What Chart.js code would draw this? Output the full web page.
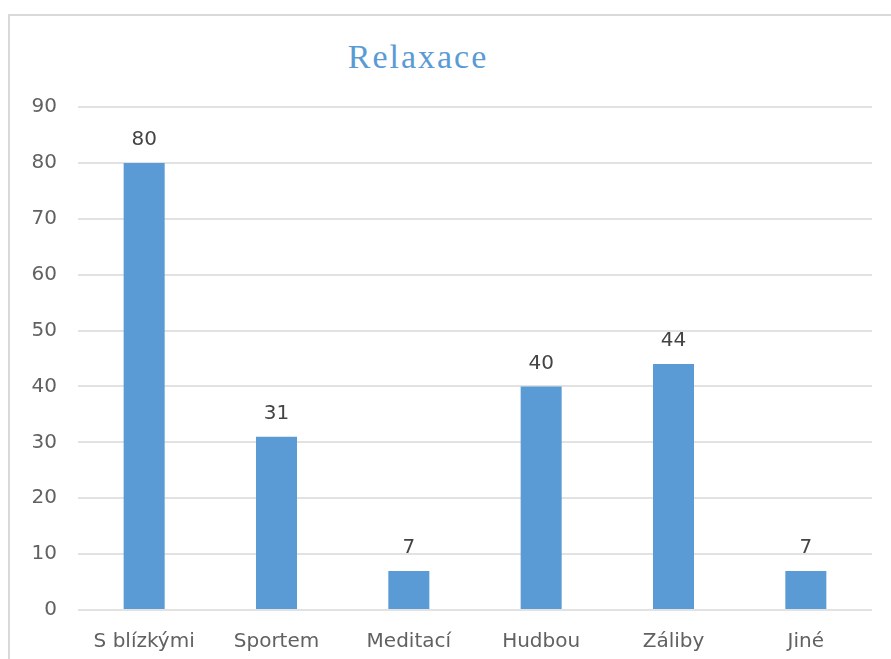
<!DOCTYPE html>
<html>
<head>
<meta charset="utf-8">
<script src="https://cdn.jsdelivr.net/npm/chart.js@4/dist/chart.umd.min.js"></script>
<style>
  body { margin: 0; background: #fff; overflow: hidden; }
  #frame {
    position: absolute; left: 8px; top: 14px;
    width: 1000px; height: 1000px;
    border: 2px solid #d9d9d9;
  }
  #title {
    position: absolute; left: 0; width: 836px; top: 37px;
    text-align: center;
    font-family: 'Liberation Serif', serif;
    font-size: 34px; line-height: 40px; letter-spacing: 2px;
    color: #5b9bd5;
  }
  #wrap { position: absolute; left: 0; top: 0; width: 891px; height: 659px; }
</style>
</head>
<body>
<div id="frame"></div>
<div id="title">Relaxace</div>
<div id="wrap"><canvas id="myChart"></canvas></div>
<script>
'use strict';

// data
let categories = ['S blízkými', 'Sportem', 'Meditací', 'Hudbou', 'Záliby', 'Jiné'];
let counts = [80, 31, 7, 40, 44, 7];
let yTicks = [0, 10, 20, 30, 40, 50, 60, 70, 80, 90];

let barColor = '#5b9bd5';
let textColor = '#616161';
let fontFamily = "'DejaVu Sans', sans-serif";

// writes each bar's value above it
let valueLabels = {
  id: 'valueLabels',
  afterDatasetsDraw(chart){
    let ctx = chart.ctx;
    let meta = chart.getDatasetMeta(0);
    ctx.save();
    ctx.font = '20px ' + fontFamily;
    ctx.fillStyle = '#444444';
    ctx.textAlign = 'center';
    ctx.textBaseline = 'middle';
    meta.data.forEach(function(bar, i){
      ctx.fillText(String(counts[i]), bar.x, bar.y - 23);
    });
    ctx.restore();
  }
};

let ctx = document.getElementById('myChart').getContext('2d');

let myChartObj = {
  type: 'bar',
  data: {
    labels: categories,
    datasets: [{
      data: counts,
      backgroundColor: barColor,
      borderWidth: 0,
      barPercentage: 1,
      categoryPercentage: 0.31
    }]
  },
  options: {
    responsive: true,
    maintainAspectRatio: false,
    animation: false,
    layout: {
      padding: { left: 0, right: 19, top: 107, bottom: 0 }
    },
    plugins: {
      legend: { display: false },
      tooltip: { enabled: false }
    },
    scales: {
      x: {
        grid: { display: false, drawTicks: false },
        border: { display: false },
        ticks: {
          color: textColor,
          font: { family: fontFamily, size: 20 },
          padding: 20,
          maxRotation: 0
        },
        afterFit(scale){ scale.height = 49; }
      },
      y: {
        min: 0,
        max: 90,
        afterBuildTicks(scale){
          scale.ticks = yTicks.map(function(v){ return { value: v }; });
        },
        grid: { color: '#e2e2e2', lineWidth: 2, drawTicks: false },
        border: { display: false },
        ticks: {
          color: textColor,
          font: { family: fontFamily, size: 20 },
          padding: 21
        },
        afterFit(scale){ scale.width = 78; }
      }
    }
  },
  plugins: [valueLabels]
};

const myChart = new Chart(ctx, myChartObj);
</script>
</body>
</html>
